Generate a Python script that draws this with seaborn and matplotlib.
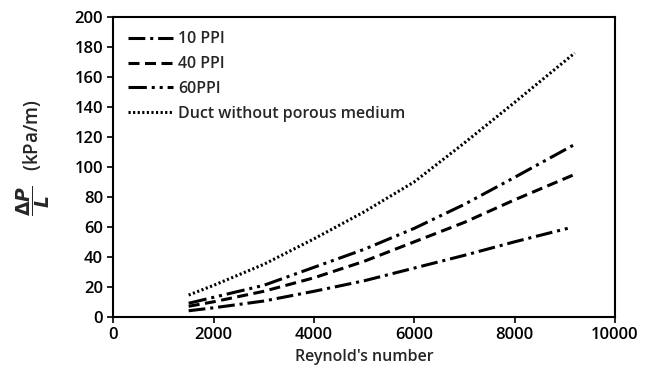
import matplotlib
matplotlib.use("Agg")
import matplotlib.pyplot as plt
import seaborn as sns
import pandas as pd

re_vals = [1500, 2000, 3000, 4000, 5000, 6000, 7000, 8000, 9200]
re_10 = [1500, 2000, 3000, 4000, 5000, 6000, 7000, 8000, 9060]
ppi10 = [4, 6, 10.5, 17, 24, 32.5, 41, 50, 59]
ppi40 = [7, 10, 17, 26, 37, 50, 63, 78, 95]
ppi60 = [9, 13, 21, 33, 45, 59, 75, 93, 115]
duct = [14.5, 21, 35, 52, 70, 90, 116, 143, 176]
labels = ["10 PPI", "40 PPI", "60PPI", "Duct without porous medium"]

rows = []
for x, y in zip(re_10, ppi10):
    rows.append((x, y, labels[0]))
for x, y in zip(re_vals, ppi40):
    rows.append((x, y, labels[1]))
for x, y in zip(re_vals, ppi60):
    rows.append((x, y, labels[2]))
for x, y in zip(re_vals, duct):
    rows.append((x, y, labels[3]))
df = pd.DataFrame(rows, columns=["Re", "dp", "series"])

sns.set_style("ticks")
plt.rcParams['font.family'] = ['Open Sans', 'DejaVu Sans']
plt.rcParams['font.weight'] = 'semibold'
plt.rcParams['axes.labelweight'] = 'semibold'
plt.rcParams['mathtext.fontset'] = 'dejavusans'

fig, ax = plt.subplots(figsize=(6.52, 3.78), dpi=100)
fig.subplots_adjust(left=0.174, right=0.943, top=0.955, bottom=0.162)

dashes = {
    labels[0]: (5.5, 1.6, 1, 1.6),
    labels[1]: (3.6, 1.8),
    labels[2]: (6, 1.6, 1, 1.6, 1, 1.6),
    labels[3]: (0.7, 0.8),
}
sns.lineplot(data=df, x="Re", y="dp", hue="series", style="series",
             dashes=dashes, palette=["black"] * 4, linewidth=2.2,
             ax=ax, legend=True, sort=True)

ax.set_xlim(0, 10000)
ax.set_ylim(0, 200)
ax.set_xticks(range(0, 10001, 2000))
ax.set_yticks(range(0, 201, 20))
ax.tick_params(axis='both', labelsize=12, direction='out', length=4, width=1.2, colors='black')
for s in ax.spines.values():
    s.set_linewidth(1.5)
    s.set_color('black')
ax.set_xlabel("Reynold's number", fontsize=11.5, fontweight='semibold')
ax.set_ylabel(r"$\dfrac{\Delta P}{L}$   (kPa/m)", fontsize=13.5, fontweight='semibold')
ax.yaxis.set_label_coords(-0.122, 0.53)

leg = ax.legend(loc="upper left", frameon=False, fontsize=11.5, handlelength=2.8,
                handletextpad=0.35, labelspacing=0.55, borderaxespad=0.5)

fig.savefig("out.png", dpi=100)
